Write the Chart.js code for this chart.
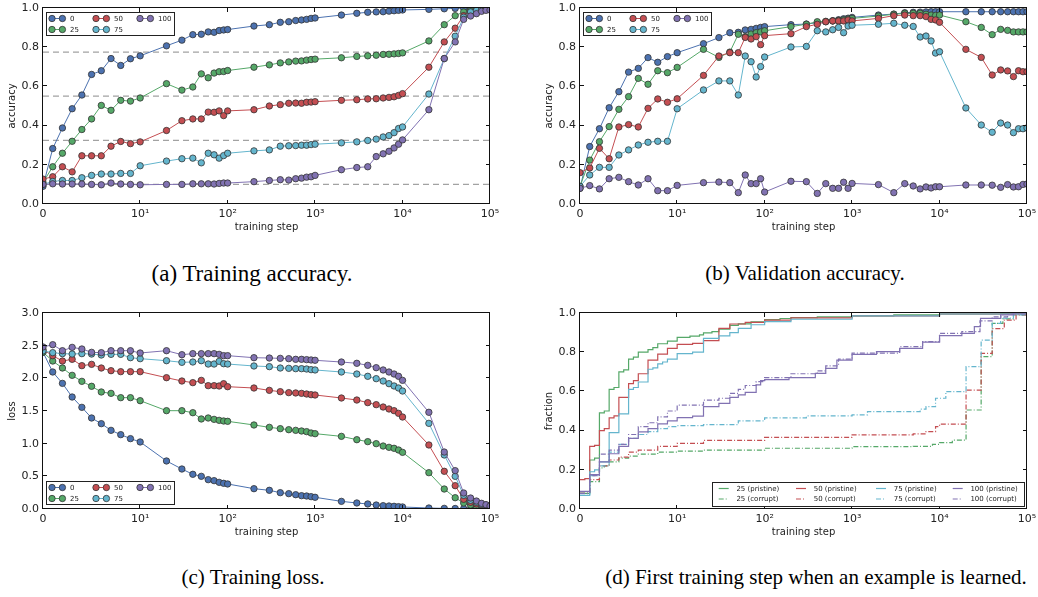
<!DOCTYPE html>
<html>
<head>
<meta charset="utf-8">
<script src="https://cdn.jsdelivr.net/npm/chart.js@4"></script>
<style>
    body { margin: 0; background: #fff; width: 1038px; height: 597px; position: relative; overflow: hidden; }
    canvas { position: absolute; }
    .cap { position: absolute; font-family: "Liberation Serif", "Times New Roman", serif; font-size: 21px; line-height: 1;
           color: #000; white-space: nowrap; transform: translateX(-50%); }
</style>
</head>
<body>
<canvas id="chart-a" width="500" height="246" style="left:0px;top:0px"></canvas>
<canvas id="chart-b" width="500" height="246" style="left:537px;top:0px"></canvas>
<canvas id="chart-c" width="500" height="246" style="left:0px;top:305px"></canvas>
<canvas id="chart-d" width="500" height="246" style="left:537px;top:305px"></canvas>
<div class="cap" style="left:252px;top:262px;font-size:23px">(a) Training accuracy.</div>
<div class="cap" style="left:805px;top:263px">(b) Validation accuracy.</div>
<div class="cap" style="left:253px;top:567px">(c) Training loss.</div>
<div class="cap" style="left:816px;top:567px">(d) First training step when an example is learned.</div>
<script>
// Data
const steps = [0,1,2,3,4,5,6,7,8,9,10,20,30,40,50,60,70,80,90,100,
    200,300,400,500,600,700,800,900,1000,2000,3000,4000,5000,6000,7000,8000,9000,10000,
    20000,30000,40000,50000,60000,70000,80000,90000,100000];
const noiseLevels = ['0', '25', '50', '75', '100'];
const colors = ['#4c72b0', '#55a868', '#c44e52', '#64b5cd', '#8172b2'];
const xTickValues = [0, 10, 100, 1000, 10000, 100000];
const chanceLines = [0.775, 0.55, 0.325, 0.1];

// (a) training accuracy
const acc0 = [0.09,0.283,0.388,0.486,0.556,0.661,0.68,0.742,0.707,0.741,0.756,
    0.807,0.836,0.864,0.866,0.878,0.876,0.885,0.888,0.89,
    0.908,0.915,0.927,0.93,0.936,0.939,0.942,0.947,0.949,
    0.964,0.973,0.978,0.98,0.981,0.984,0.986,0.988,0.99,
    0.993,0.996,0.998,0.999,1,1,1,1,1];
const acc25 = [0.11,0.19,0.259,0.32,0.38,0.434,0.503,0.478,0.529,0.525,0.541,
    0.614,0.581,0.597,0.664,0.644,0.668,0.675,0.676,0.681,
    0.698,0.71,0.72,0.725,0.729,0.73,0.734,0.737,0.739,
    0.746,0.753,0.756,0.759,0.763,0.764,0.766,0.768,0.771,
    0.832,0.915,0.961,0.98,0.988,0.992,0.995,0.997,0.998];
const acc50 = [0.127,0.139,0.19,0.164,0.246,0.246,0.246,0.295,0.319,0.308,0.317,
    0.375,0.425,0.434,0.434,0.469,0.468,0.475,0.451,0.475,
    0.481,0.5,0.507,0.514,0.515,0.514,0.519,0.52,0.522,
    0.529,0.532,0.536,0.537,0.541,0.544,0.547,0.554,0.563,
    0.698,0.827,0.897,0.961,0.98,0.988,0.993,0.996,0.998];
const acc75 = [0.1,0.115,0.12,0.12,0.134,0.146,0.153,0.153,0.156,0.156,0.195,
    0.219,0.231,0.234,0.21,0.259,0.251,0.234,0.247,0.259,
    0.271,0.276,0.295,0.297,0.298,0.3,0.3,0.303,0.305,
    0.312,0.317,0.324,0.331,0.342,0.349,0.364,0.385,0.393,
    0.561,0.742,0.856,0.953,0.98,0.988,0.993,0.996,0.998];
const acc100 = [0.1,0.103,0.102,0.102,0.102,0.1,0.098,0.107,0.102,0.1,0.098,
    0.1,0.1,0.103,0.103,0.103,0.102,0.105,0.107,0.107,
    0.114,0.12,0.124,0.122,0.129,0.132,0.137,0.139,0.146,
    0.175,0.186,0.19,0.242,0.256,0.269,0.286,0.305,0.327,
    0.481,0.742,0.827,0.942,0.959,0.971,0.983,0.988,0.99];

// (b) validation accuracy
const val0 = [0.08,0.293,0.384,0.491,0.573,0.673,0.692,0.747,0.723,0.752,0.772,
    0.818,0.849,0.874,0.876,0.888,0.891,0.896,0.901,0.905,
    0.915,0.918,0.925,0.93,0.935,0.94,0.945,0.948,0.952,
    0.964,0.969,0.976,0.978,0.979,0.98,0.981,0.981,0.981,
    0.981,0.981,0.981,0.981,0.981,0.981,0.981,0.981,0.981];
const val25 = [0.09,0.224,0.318,0.395,0.483,0.548,0.641,0.611,0.68,0.67,0.697,
    0.789,0.748,0.775,0.866,0.854,0.867,0.874,0.878,0.884,
    0.905,0.917,0.93,0.932,0.934,0.937,0.94,0.944,0.947,
    0.959,0.968,0.973,0.973,0.973,0.968,0.964,0.962,0.964,
    0.93,0.901,0.864,0.891,0.886,0.878,0.878,0.878,0.878];
const val50 = [0.16,0.184,0.284,0.231,0.393,0.405,0.393,0.488,0.536,0.519,0.537,
    0.656,0.755,0.772,0.772,0.85,0.842,0.854,0.813,0.859,
    0.869,0.905,0.917,0.93,0.934,0.934,0.934,0.939,0.934,
    0.947,0.961,0.964,0.961,0.961,0.956,0.942,0.939,0.927,
    0.789,0.748,0.658,0.684,0.679,0.65,0.68,0.675,0.675];
const val75 = [0.09,0.148,0.187,0.187,0.25,0.276,0.301,0.315,0.32,0.32,0.486,
    0.582,0.628,0.628,0.556,0.755,0.726,0.648,0.701,0.75,
    0.801,0.804,0.884,0.878,0.889,0.901,0.874,0.908,0.912,
    0.917,0.922,0.912,0.906,0.852,0.857,0.832,0.77,0.777,
    0.49,0.403,0.366,0.413,0.403,0.364,0.384,0.384,0.388];
const val100 = [0.08,0.094,0.077,0.129,0.136,0.114,0.097,0.129,0.068,0.068,0.095,
    0.109,0.112,0.109,0.058,0.148,0.104,0.104,0.129,0.061,
    0.116,0.114,0.054,0.104,0.08,0.08,0.111,0.08,0.105,
    0.099,0.058,0.104,0.092,0.077,0.087,0.082,0.088,0.088,
    0.097,0.097,0.096,0.085,0.099,0.087,0.088,0.1,0.102];

// (c) training loss
const loss0 = [2.4,2.097,1.923,1.714,1.556,1.393,1.306,1.204,1.138,1.077,1.026,
    0.735,0.612,0.531,0.5,0.449,0.434,0.408,0.393,0.383,
    0.311,0.286,0.25,0.235,0.219,0.204,0.199,0.189,0.179,
    0.117,0.092,0.077,0.061,0.051,0.046,0.041,0.036,0.031,
    0.015,0.01,0.008,0.006,0.005,0.005,0.004,0.004,0.003];
const loss25 = [2.4,2.265,2.158,2.046,1.954,1.878,1.791,1.77,1.704,1.704,1.658,
    1.505,1.505,1.474,1.378,1.393,1.372,1.357,1.347,1.342,
    1.286,1.25,1.23,1.214,1.204,1.194,1.184,1.163,1.153,
    1.112,1.061,1.031,1.0,0.964,0.944,0.929,0.903,0.867,
    0.556,0.306,0.173,0.092,0.061,0.046,0.036,0.031,0.026];
const loss50 = [2.44,2.347,2.265,2.291,2.194,2.214,2.158,2.117,2.102,2.102,2.102,
    2.01,1.959,1.934,1.969,1.888,1.888,1.883,1.918,1.872,
    1.852,1.816,1.796,1.781,1.776,1.77,1.76,1.75,1.745,
    1.699,1.668,1.628,1.597,1.561,1.531,1.505,1.464,1.408,
    0.98,0.577,0.357,0.148,0.102,0.077,0.061,0.046,0.031];
const loss75 = [2.42,2.393,2.378,2.372,2.378,2.372,2.357,2.367,2.367,2.316,2.301,
    2.27,2.245,2.25,2.27,2.219,2.219,2.26,2.224,2.219,
    2.189,2.179,2.158,2.153,2.148,2.148,2.143,2.133,2.128,
    2.097,2.066,2.031,1.995,1.959,1.918,1.883,1.852,1.806,
    1.311,0.827,0.5,0.209,0.133,0.102,0.072,0.061,0.046];
const loss100 = [2.48,2.515,2.423,2.474,2.449,2.398,2.393,2.423,2.423,2.423,2.388,
    2.423,2.362,2.378,2.378,2.378,2.378,2.367,2.347,2.347,
    2.316,2.311,2.306,2.301,2.291,2.291,2.286,2.281,2.276,
    2.25,2.23,2.199,2.163,2.128,2.097,2.066,2.031,1.969,
    1.48,0.872,0.587,0.245,0.168,0.122,0.087,0.066,0.046];

// (d) fraction learned by step: [step, fraction]
const pristine25 = [[0,0.08],[1,0.25],[1.5,0.26],[2,0.49],[2.5,0.5],[3,0.61],[3.5,0.62],[4,0.7],[4.5,0.71],
    [5,0.765],[5.5,0.775],[6,0.8],[7,0.813],[7.5,0.823],[8,0.843],[9,0.857],[10,0.876],[14,0.882],[18,0.888],
    [20,0.899],[25,0.905],[30,0.917],[40,0.937],[50,0.945],[70,0.955],[100,0.966],[150,0.972],[200,0.976],
    [400,0.98],[1000,0.985],[3000,0.99],[10000,0.995],[50000,0.998],[100000,1]];
const corrupt25 = [[0,0.08],[1,0.14],[2,0.21],[2.5,0.22],[3,0.24],[4,0.26],[5,0.27],[6,0.28],[8,0.29],[10,0.295],
    [20,0.3],[100,0.31],[1000,0.318],[5000,0.32],[8300,0.33],[10000,0.339],[14000,0.351],[20100,0.505],
    [29900,0.777],[40000,0.947],[53000,0.97],[70000,0.99],[100000,1]];
const pristine50 = [[0,0.15],[0.5,0.155],[1,0.32],[1.5,0.325],[2,0.4],[2.5,0.41],[3,0.465],[3.5,0.475],[4,0.57],
    [5,0.64],[5.5,0.655],[6,0.69],[7,0.76],[8,0.79],[9,0.82],[10,0.84],[15,0.845],[20,0.859],[30,0.922],
    [40,0.944],[60,0.952],[100,0.964],[200,0.975],[1000,0.985],[10000,0.995],[100000,1]];
const corrupt50 = [[0,0.08],[1,0.15],[2,0.22],[3,0.25],[4,0.265],[5,0.29],[6,0.3],[8,0.32],[10,0.335],[20,0.35],
    [100,0.365],[1000,0.378],[5000,0.383],[7000,0.395],[9000,0.42],[10000,0.433],[20100,0.607],[29900,0.794],
    [40000,0.92],[55000,0.964],[75000,0.99],[100000,1]];
const pristine75 = [[0,0.07],[1,0.19],[1.5,0.2],[2,0.24],[3,0.39],[4,0.485],[5,0.61],[5.5,0.62],[6,0.648],[7,0.713],
    [7.5,0.72],[8,0.74],[8.5,0.75],[9,0.765],[10,0.793],[15,0.8],[20,0.871],[30,0.883],[40,0.9],[50,0.922],
    [70,0.94],[100,0.956],[200,0.968],[1000,0.985],[10000,0.995],[100000,1]];
const corrupt75 = [[0,0.07],[1,0.17],[2,0.22],[3,0.29],[4,0.33],[5,0.36],[6,0.38],[7,0.395],[8,0.41],[9,0.42],
    [10,0.425],[20,0.43],[50,0.45],[100,0.465],[300,0.475],[1000,0.48],[1500,0.497],[6000,0.51],[7000,0.522],
    [9000,0.565],[11800,0.599],[20100,0.726],[29900,0.862],[40000,0.947],[50000,0.974],[70000,0.99],[100000,1]];
const pristine100 = [[0,0.09],[1,0.175],[2,0.24],[3,0.282],[4,0.32],[5,0.36],[6,0.393],[7,0.41],[8,0.434],[9,0.45],
    [10,0.466],[15,0.474],[20,0.522],[30,0.539],[40,0.57],[50,0.582],[60,0.595],[80,0.633],[90,0.655],[100,0.66],
    [190,0.67],[380,0.692],[500,0.717],[670,0.76],[1000,0.789],[1900,0.803],[3500,0.82],[6400,0.851],
    [10000,0.885],[18000,0.896],[25000,0.93],[29400,0.973],[50000,0.99],[70000,1],[100000,1]];
const corrupt100 = [[0,0.08],[1,0.17],[2,0.28],[3,0.3],[4,0.33],[5,0.38],[6,0.42],[7,0.44],[8,0.47],[9,0.5],
    [10,0.53],[20,0.555],[30,0.565],[40,0.59],[50,0.61],[60,0.63],[80,0.65],[100,0.67],[200,0.69],[400,0.705],
    [500,0.73],[700,0.765],[1000,0.795],[3500,0.828],[6400,0.854],[10000,0.896],[18000,0.905],[29000,0.96],
    [40000,0.98],[60000,0.995],[100000,1]];

const FONT = '"DejaVu Sans", sans-serif';
const INK = '#222';

// symlog x scale (linthresh 10, linscale 1)
const LINTHRESH = 10, LINSCALE = 10 / 9;
function symT(v) {
    return v <= LINTHRESH ? v / LINTHRESH * LINSCALE : LINSCALE + Math.log10(v / LINTHRESH);
}
function symInv(t) {
    return t <= LINSCALE ? t / LINSCALE * LINTHRESH : LINTHRESH * Math.pow(10, t - LINSCALE);
}
class SymlogScale extends Chart.LinearScale {
    buildTicks() {
        return xTickValues.map(v => ({value: v}));
    }
    getPixelForValue(value) {
        return this.getPixelForDecimal(symT(value) / symT(this.max));
    }
    getValueForPixel(pixel) {
        return symInv(this.getDecimalForPixel(pixel) * symT(this.max));
    }
}
SymlogScale.id = 'symlog';
SymlogScale.defaults = {};
Chart.register(SymlogScale);

const SUP = {'1': '\u00b9', '2': '\u00b2', '3': '\u00b3', '4': '\u2074', '5': '\u2075'};
function xLabel(v) {
    if (v === 0) return '0';
    return '10' + SUP[String(Math.round(Math.log10(v)))];
}

// frame with inward ticks on all sides
const frameTicks = {
    id: 'frameTicks',
    afterDatasetsDraw(chart) {
        const {ctx, chartArea: a, scales: {x, y}} = chart;
        ctx.save();
        ctx.strokeStyle = '#111';
        ctx.lineWidth = 1;
        ctx.beginPath();
        xTickValues.forEach(v => {
            const px = Math.round(x.getPixelForValue(v)) - 0.5;
            ctx.moveTo(px, a.bottom); ctx.lineTo(px, a.bottom - 4);
            ctx.moveTo(px, a.top); ctx.lineTo(px, a.top + 4);
        });
        y.ticks.forEach(t => {
            const py = Math.round(y.getPixelForValue(t.value)) - 0.5;
            ctx.moveTo(a.left, py); ctx.lineTo(a.left + 4, py);
            ctx.moveTo(a.right, py); ctx.lineTo(a.right - 4, py);
        });
        ctx.stroke();
        ctx.strokeRect(a.left - 0.5, a.top - 0.5, a.right - a.left, a.bottom - a.top);
        ctx.restore();
    }
};

function markerLegend(atBottom) {
    return {
        id: 'markerLegend',
        afterDraw(chart) {
            const {ctx, chartArea: a} = chart;
            const w = 128, h = 23;
            const x0 = Math.round(a.left + 3), y0 = Math.round(atBottom ? a.bottom - 5 - h : a.top + 4);
            ctx.save();
            ctx.fillStyle = '#fff';
            ctx.fillRect(x0, y0, w, h);
            ctx.strokeStyle = INK;
            ctx.lineWidth = 1;
            ctx.strokeRect(x0 + 0.5, y0 + 0.5, w, h);
            ctx.font = '7px ' + FONT;
            ctx.textBaseline = 'middle';
            noiseLevels.forEach((lab, k) => {
                const col = Math.floor(k / 2), row = k % 2;
                const cx = x0 + 6 + col * 44, cy = y0 + 6.5 + row * 11;
                ctx.strokeStyle = colors[k];
                ctx.lineWidth = 1;
                ctx.beginPath(); ctx.moveTo(cx, cy); ctx.lineTo(cx + 10.4, cy); ctx.stroke();
                [cx, cx + 10.4].forEach(px => {
                    ctx.beginPath();
                    ctx.arc(px, cy, 3.2, 0, 2 * Math.PI);
                    ctx.fillStyle = colors[k];
                    ctx.fill();
                    ctx.strokeStyle = '#333';
                    ctx.lineWidth = 0.8;
                    ctx.stroke();
                });
                ctx.fillStyle = INK;
                ctx.fillText(lab, cx + 18, cy + 0.5);
            });
            ctx.restore();
        }
    };
}

const lineLegend = {
    id: 'lineLegend',
    afterDraw(chart) {
        const {ctx, chartArea: a} = chart;
        const w = 312, h = 24;
        const x0 = Math.round(a.right - 3 - w), y0 = Math.round(a.bottom - 3 - h);
        ctx.save();
        ctx.fillStyle = '#fff';
        ctx.fillRect(x0, y0, w, h);
        ctx.strokeStyle = INK;
        ctx.lineWidth = 1;
        ctx.strokeRect(x0 + 0.5, y0 + 0.5, w, h);
        ctx.font = '7px ' + FONT;
        ctx.textBaseline = 'middle';
        const colStart = [6.7, 84, 164, 240.7];
        chart.data.datasets.forEach((ds, k) => {
            const col = Math.floor(k / 2), row = k % 2;
            const lx = x0 + colStart[col], ly = y0 + 6.5 + row * 10.5;
            ctx.strokeStyle = ds.borderColor;
            ctx.lineWidth = 1.2;
            ctx.setLineDash(ds.borderDash || []);
            ctx.beginPath(); ctx.moveTo(lx, ly); ctx.lineTo(lx + 10, ly); ctx.stroke();
            ctx.setLineDash([]);
            ctx.fillStyle = INK;
            ctx.fillText(ds.label, lx + 17.7, ly + 0.5);
        });
        ctx.restore();
    }
};

function markerSeries(vals, k) {
    return {
        label: noiseLevels[k],
        data: steps.map((s, i) => ({x: s, y: vals[i]})),
        borderColor: colors[k],
        backgroundColor: colors[k],
        borderWidth: 1,
        pointRadius: 3.2,
        pointBackgroundColor: colors[k],
        pointBorderColor: '#333',
        pointBorderWidth: 0.8,
        order: 10 - k,
        clip: 0
    };
}

function stepSeries(label, pts, k, corrupt, idx) {
    return {
        label: label,
        data: pts.map(p => ({x: p[0], y: p[1]})),
        borderColor: colors[k],
        borderWidth: 1.2,
        borderDash: corrupt ? [5, 2, 1, 2] : [],
        pointRadius: 0,
        stepped: 'before',
        order: 20 - idx,
        clip: 0
    };
}

function options(yMax, yStep, yTitle) {
    return {
        responsive: false,
        animation: false,
        events: [],
        layout: {padding: {left: 0, top: 8, right: 10, bottom: 0}},
        plugins: {legend: {display: false}, tooltip: {enabled: false}},
        scales: {
            x: {
                type: 'symlog', min: 0, max: 100000,
                grid: {display: false, drawTicks: false},
                border: {display: false},
                ticks: {callback: v => xLabel(v), font: {family: FONT, size: 11}, color: INK,
                        padding: 4, maxRotation: 0, autoSkip: false},
                title: {display: true, text: 'training step', font: {family: FONT, size: 10}, color: INK,
                        padding: {top: 0, bottom: 13}},
                afterFit: s => { s.height = 42; s.paddingLeft = 0; s.paddingRight = 0; }
            },
            y: {
                type: 'linear', min: 0, max: yMax,
                grid: {display: false, drawTicks: false},
                border: {display: false},
                ticks: {stepSize: yStep, callback: v => v.toFixed(1), font: {family: FONT, size: 11},
                        color: INK, padding: 4},
                title: {display: true, text: yTitle, font: {family: FONT, size: 10}, color: INK,
                        padding: {top: 6, bottom: 0}},
                afterFit: s => { s.width = 43; s.paddingTop = 0; s.paddingBottom = 0; }
            }
        }
    };
}

// (a)
const chanceSets = chanceLines.map(v => ({
    label: 'chance',
    data: [{x: 0, y: v}, {x: 100000, y: v}],
    borderColor: '#a2a2a2',
    borderWidth: 1.3,
    borderDash: [6, 4],
    pointRadius: 0,
    order: 30,
    clip: 0
}));
new Chart(document.getElementById('chart-a'), {
    type: 'line',
    data: {datasets: [acc0, acc25, acc50, acc75, acc100].map((v, k) => markerSeries(v, k)).concat(chanceSets)},
    options: options(1, 0.2, 'accuracy'),
    plugins: [frameTicks, markerLegend(false)]
});

// (b)
new Chart(document.getElementById('chart-b'), {
    type: 'line',
    data: {datasets: [val0, val25, val50, val75, val100].map((v, k) => markerSeries(v, k))},
    options: options(1, 0.2, 'accuracy'),
    plugins: [frameTicks, markerLegend(false)]
});

// (c)
new Chart(document.getElementById('chart-c'), {
    type: 'line',
    data: {datasets: [loss0, loss25, loss50, loss75, loss100].map((v, k) => markerSeries(v, k))},
    options: options(3, 0.5, 'loss'),
    plugins: [frameTicks, markerLegend(true)]
});

// (d)
new Chart(document.getElementById('chart-d'), {
    type: 'line',
    data: {datasets: [
        stepSeries('25 (pristine)', pristine25, 1, false, 0),
        stepSeries('25 (corrupt)', corrupt25, 1, true, 1),
        stepSeries('50 (pristine)', pristine50, 2, false, 2),
        stepSeries('50 (corrupt)', corrupt50, 2, true, 3),
        stepSeries('75 (pristine)', pristine75, 3, false, 4),
        stepSeries('75 (corrupt)', corrupt75, 3, true, 5),
        stepSeries('100 (pristine)', pristine100, 4, false, 6),
        stepSeries('100 (corrupt)', corrupt100, 4, true, 7)
    ]},
    options: options(1, 0.2, 'fraction'),
    plugins: [frameTicks, lineLegend]
});
</script>
</body>
</html>
